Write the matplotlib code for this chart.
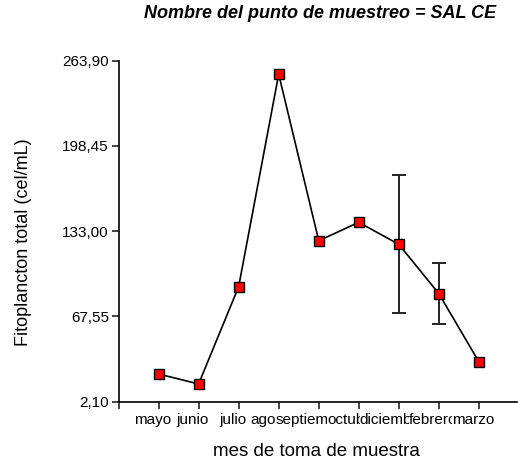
import matplotlib
matplotlib.use("Agg")
import matplotlib.pyplot as plt
from matplotlib.ticker import FixedLocator
import matplotlib.transforms as mtransforms

months = ["mayo", "junio", "julio", "agosto", "septiembre", "octubre",
          "diciembre", "febrero", "marzo"]
values = [23.4, 15.7, 90.4, 253.5, 125.7, 139.8, 122.9, 85.0, 32.6]
errors = [0, 0, 0, 0, 0, 0, 53.0, 23.5, 0]
yticks = [2.10, 67.55, 133.00, 198.45, 263.90]
ytick_labels = ["2,10", "67,55", "133,00", "198,45", "263,90"]

plt.rcParams['font.family'] = ['Liberation Sans', 'DejaVu Sans']

fig = plt.figure(figsize=(5.18, 4.65), dpi=100)
ax = fig.add_axes([118.5/518, 1-401.7/465, (517-118.5)/518, (401.7-60.7)/465])

x = list(range(1, len(months) + 1))
yerr_idx = [i for i, e in enumerate(errors) if e > 0]
ax.errorbar([x[i] for i in yerr_idx], [values[i] for i in yerr_idx],
            yerr=[errors[i] for i in yerr_idx], fmt='none', ecolor='#222222',
            elinewidth=1.4, capsize=5, capthick=1.4, zorder=2)
ax.plot(x, values, color='black', lw=1.2, marker='s', markersize=6.7,
        markerfacecolor='#ff0000', markeredgecolor='black', markeredgewidth=1.0,
        zorder=3)

ax.set_xlim(0, 9.95)
ax.set_ylim(yticks[0], yticks[-1])
ax.set_yticks(yticks)
ax.set_yticklabels(ytick_labels, fontsize=11)
ax.xaxis.set_major_locator(FixedLocator(list(range(0, 10))))
ax.set_xticklabels([""] + months, fontsize=11)

for s in ['top', 'right']:
    ax.spines[s].set_visible(False)
for s in ['left', 'bottom']:
    ax.spines[s].set_linewidth(1.2)
ax.tick_params(direction='out', length=5, width=1.2, color='#222222')
ax.tick_params(axis='x', pad=3)
ax.tick_params(axis='y', pad=2)

offset = mtransforms.ScaledTranslation(-6/100, 0, fig.dpi_scale_trans)
for i, lab in enumerate(ax.get_xticklabels()):
    lab.set_transform(lab.get_transform() + offset)
    lab.set_bbox(dict(facecolor='white', edgecolor='none', pad=0))
    lab.set_zorder(10 + i)

fig.text(24/518, 1-242/465, "Fitoplancton total (cel/mL)", rotation=90,
         ha='center', va='center', fontsize=13)
fig.text(316/518, 1-451/465, "mes de toma de muestra",
         ha='center', va='center', fontsize=13.5)
fig.text(320/518, 1-14/465, "Nombre del punto de muestreo = SAL CE",
         ha='center', va='center', fontsize=13, fontweight='bold',
         fontstyle='italic')

fig.savefig("out.png", dpi=100)
